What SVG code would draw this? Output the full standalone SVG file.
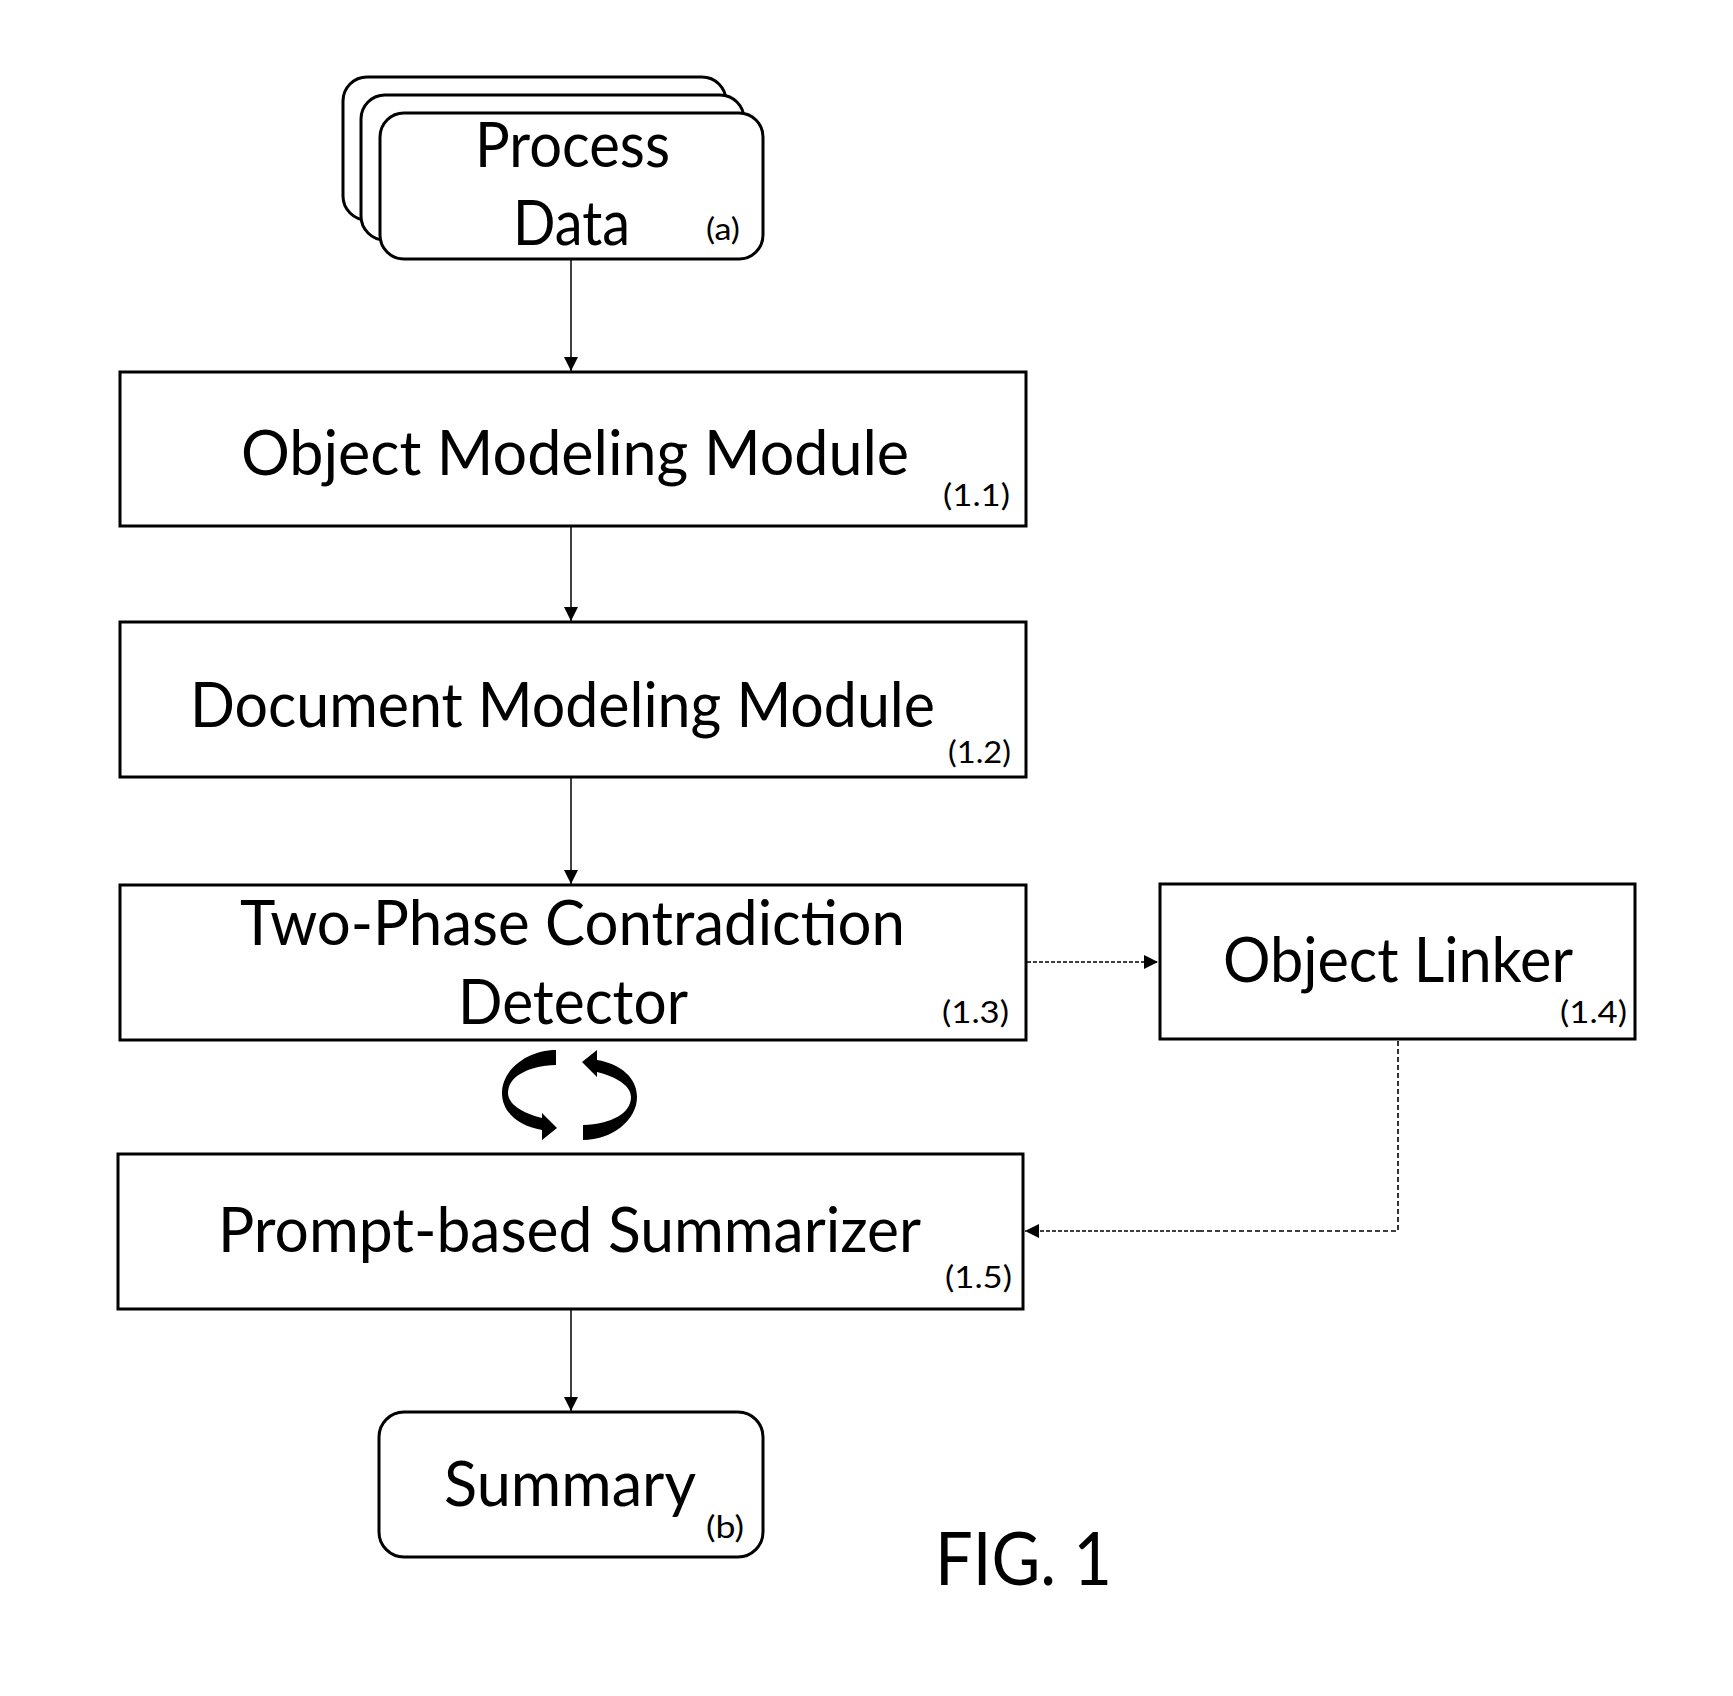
<svg xmlns="http://www.w3.org/2000/svg" width="1733" height="1696" viewBox="0 0 1733 1696">
  <style>
    .box { fill: #ffffff; stroke: #000000; stroke-width: 3; }
    .lbl { font-family: Lato, "Open Sans", "Liberation Sans", sans-serif; font-size: 62px; fill: #000000; }
    .num { font-family: Lato, "Open Sans", "Liberation Sans", sans-serif; font-size: 31px; fill: #000000; }
    .fig { font-family: Lato, "Open Sans", "Liberation Sans", sans-serif; font-size: 74px; fill: #000000; }
    .solid { fill: none; stroke: #000000; stroke-width: 1.5; }
    .dash { fill: none; stroke: #000000; stroke-width: 1.6; stroke-dasharray: 4 2; }
    .dashv { fill: none; stroke: #000000; stroke-width: 1.6; stroke-dasharray: 5 3; }
  </style>
  <defs>
    <marker id="arr" markerUnits="userSpaceOnUse" markerWidth="16" markerHeight="16" refX="14" refY="7" orient="auto">
      <path d="M0,0 L14,7 L0,14 Z" fill="#000000"/>
    </marker>
  </defs>
  <rect width="1733" height="1696" fill="#ffffff"/>

  <g id="connectors">
    <line class="solid" x1="571" y1="259" x2="571" y2="371" marker-end="url(#arr)"/>
    <line class="solid" x1="571" y1="526" x2="571" y2="621" marker-end="url(#arr)"/>
    <line class="solid" x1="571" y1="777" x2="571" y2="884" marker-end="url(#arr)"/>
    <line class="solid" x1="571" y1="1309" x2="571" y2="1411" marker-end="url(#arr)"/>
    <line class="dash" x1="1027" y1="962" x2="1158" y2="962" marker-end="url(#arr)"/>
    <polyline class="dashv" points="1398,1041 1398,1231 1200,1231"/>
    <line class="dash" x1="1200" y1="1231" x2="1025" y2="1231" marker-end="url(#arr)"/>
  </g>

  <g id="node-process-data">
    <rect class="box" x="343" y="77" width="383" height="143" rx="24"/>
    <rect class="box" x="361" y="95" width="383" height="145" rx="24"/>
    <rect class="box" x="380" y="113" width="383" height="146" rx="24"/>
    <text class="lbl" x="475" y="167" textLength="195" lengthAdjust="spacingAndGlyphs">Process</text>
    <text class="lbl" x="513" y="245" textLength="117" lengthAdjust="spacingAndGlyphs">Data</text>
    <text class="num" x="706" y="240" textLength="34" lengthAdjust="spacingAndGlyphs">(a)</text>
  </g>

  <g id="node-object-modeling">
    <rect class="box" x="120" y="372" width="906" height="154"/>
    <text class="lbl" x="241" y="475" textLength="668" lengthAdjust="spacingAndGlyphs">Object Modeling Module</text>
    <text class="num" x="943" y="506" textLength="67" lengthAdjust="spacingAndGlyphs">(1.1)</text>
  </g>

  <g id="node-document-modeling">
    <rect class="box" x="120" y="622" width="906" height="155"/>
    <text class="lbl" x="190" y="727" font-size="58" textLength="745" lengthAdjust="spacingAndGlyphs">Document Modeling Module</text>
    <text class="num" x="948" y="763" font-size="30" textLength="63" lengthAdjust="spacingAndGlyphs">(1.2)</text>
  </g>

  <g id="node-two-phase">
    <rect class="box" x="120" y="885" width="906" height="155"/>
    <text class="lbl" x="240" y="945" textLength="665" lengthAdjust="spacingAndGlyphs">Two-Phase Contradiction</text>
    <text class="lbl" x="458" y="1024" textLength="230" lengthAdjust="spacingAndGlyphs">Detector</text>
    <text class="num" x="942" y="1023" textLength="67" lengthAdjust="spacingAndGlyphs">(1.3)</text>
  </g>

  <g id="node-object-linker">
    <rect class="box" x="1160" y="884" width="475" height="155"/>
    <text class="lbl" x="1223" y="982" textLength="350" lengthAdjust="spacingAndGlyphs">Object Linker</text>
    <text class="num" x="1560" y="1023" textLength="67" lengthAdjust="spacingAndGlyphs">(1.4)</text>
  </g>

  <g id="cycle-icon">
    <path d="M556,1050 C527,1050 502,1070 502,1093 C502,1112 518,1126 542,1130 L542,1140 L557,1128 L542,1113 L542,1118 C522,1113 508,1104 508,1093 C508,1077 527,1066 556,1065 Z" fill="#000000"/>
    <path d="M583,1140 C612,1140 637,1120 637,1097 C637,1078 621,1064 597,1060 L597,1050 L582,1062 L597,1077 L597,1072 C617,1077 631,1086 631,1097 C631,1113 612,1124 583,1125 Z" fill="#000000"/>
  </g>

  <g id="node-summarizer">
    <rect class="box" x="118" y="1154" width="905" height="155"/>
    <text class="lbl" x="218" y="1252" textLength="703" lengthAdjust="spacingAndGlyphs">Prompt-based Summarizer</text>
    <text class="num" x="945" y="1288" textLength="67" lengthAdjust="spacingAndGlyphs">(1.5)</text>
  </g>

  <g id="node-summary">
    <rect class="box" x="379" y="1412" width="384" height="145" rx="25"/>
    <text class="lbl" x="444" y="1506" textLength="252" lengthAdjust="spacingAndGlyphs">Summary</text>
    <text class="num" x="706" y="1538" textLength="38" lengthAdjust="spacingAndGlyphs">(b)</text>
  </g>

  <text class="fig" x="935" y="1585" textLength="177" lengthAdjust="spacingAndGlyphs">FIG. 1</text>
</svg>
